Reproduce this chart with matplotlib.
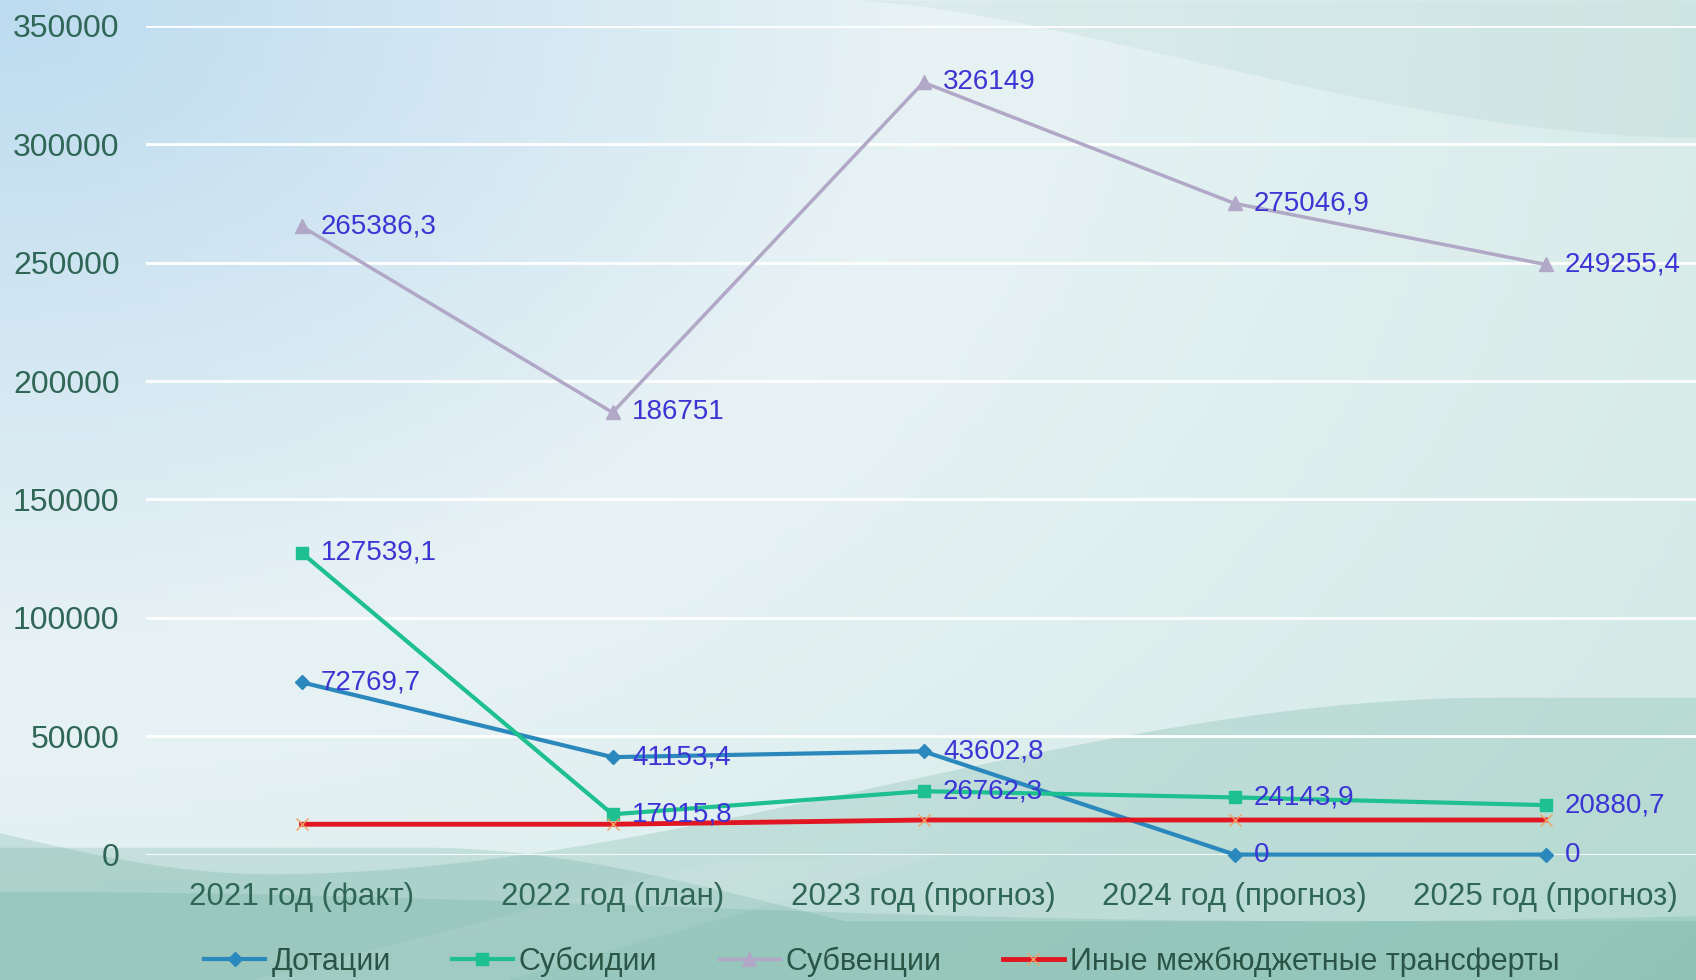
import numpy as np
import matplotlib.pyplot as plt
from matplotlib.patches import Polygon

# data
categories = ['2021 год (факт)', '2022 год (план)', '2023 год (прогноз)',
              '2024 год (прогноз)', '2025 год (прогноз)']
dotacii = [72769.7, 41153.4, 43602.8, 0, 0]
subsidii = [127539.1, 17015.8, 26762.3, 24143.9, 20880.7]
subvencii = [265386.3, 186751, 326149, 275046.9, 249255.4]
inye = [12800, 12800, 14600, 14600, 14600]
series_names = ['Дотации', 'Субсидии', 'Субвенции', 'Иные межбюджетные трансферты']
yticks = [0, 50000, 100000, 150000, 200000, 250000, 300000, 350000]

fig = plt.figure(figsize=(16.96, 9.8), dpi=100)

# background: soft blue-to-teal gradient with waves
bg = fig.add_axes([0, 0, 1, 1], zorder=-10)
h, w = 98, 170
yy, xx = np.mgrid[0:1:h * 1j, 0:1:w * 1j]
c_tl = np.array([0.74, 0.86, 0.94])
c_mid = np.array([0.91, 0.95, 0.96])
c_r = np.array([0.81, 0.91, 0.89])
d = np.sqrt(xx ** 2 + (yy * 0.8) ** 2)
img = np.zeros((h, w, 3))
for k in range(3):
    img[..., k] = np.interp(d, [0, 0.55, 1.3], [c_tl[k], c_mid[k], c_r[k]])
bg.imshow(img, extent=[0, 1, 0, 1], aspect='auto', origin='upper')
bg.set_xlim(0, 1)
bg.set_ylim(0, 1)
bg.axis('off')

teal = '#4f9f8a'


def smooth(u):
    u = np.clip(u, 0, 1)
    return u * u * (3 - 2 * u)


xs = np.linspace(0, 1, 300)
# top-right diagonal band
bg.fill_between(xs, 1 - 0.14 * smooth((xs - 0.5) / 0.5) ** 0.8, 1,
                where=xs > 0.5, color=teal, alpha=0.08, lw=0)
# main wave: dips at the left, rises to the right
wave = np.where(xs < 0.16, 0.15 - 0.042 * np.sin(0.5 * np.pi * xs / 0.16),
                0.108 + 0.18 * smooth((xs - 0.16) / 0.72))
bg.fill_between(xs, 0, wave, color=teal, alpha=0.2, lw=0)
# darker band at the bottom left, fading out to the right
band = 0.135 - 0.13 * smooth((xs - 0.25) / 0.45)
bg.fill_between(xs, 0, np.maximum(band, 0.06), color=teal, alpha=0.2, lw=0)
# legend strip
bg.fill_between(xs, 0, 0.075 + 0.015 * np.cos(xs * 4), color=teal, alpha=0.18, lw=0)
bg.add_patch(Polygon([[0.15, 0], [0.42, 0.12], [0.56, 0.13], [0.3, 0]], closed=True,
                     color='white', alpha=0.08, lw=0))

ax = fig.add_axes([146 / 1696, 0.128, 1555 / 1696, 0.8455])
ax.patch.set_alpha(0)
x = np.arange(len(categories))

styles = [
    (dotacii, '#2a88bd', 'D', 7, 3.0, True),
    (subsidii, '#1ebf90', 's', 8, 3.0, True),
    (subvencii, '#b0a8c6', '^', 10, 2.5, True),
    (inye, '#e01622', 'x', 9, 3.5, False),
]
for (vals, col, mk, ms, lw, lab), name in zip(styles, series_names):
    ax.plot(x, vals, color=col, marker=mk, markersize=ms, lw=lw, label=name,
            clip_on=False, zorder=3, markeredgewidth=1,
            markeredgecolor=col if mk != 'x' else '#f0a060')
    if lab:
        for xi, v in zip(x, vals):
            txt = f'{v:.1f}'.replace('.', ',')
            if txt.endswith(',0'):
                txt = txt[:-2]
            ax.annotate(txt, (xi, v), xytext=(14, 0), textcoords='offset points',
                        ha='left', va='center', fontsize=20, color='#3b35d6',
                        family='Liberation Sans', zorder=4)

ax.set_xlim(-0.5, 4.5)
ax.set_ylim(0, 350000)
ax.set_yticks(yticks)
ax.set_yticklabels([str(v) for v in yticks])
ax.set_xticks(x)
ax.set_xticklabels(categories)
ax.tick_params(axis='y', length=0, pad=19, labelsize=23, labelcolor='#2f6656')
ax.tick_params(axis='x', length=0, pad=20, labelsize=22.5, labelcolor='#2f6656')
for lbl in ax.get_xticklabels() + ax.get_yticklabels():
    lbl.set_family('Liberation Sans')
ax.grid(axis='y', color='white', lw=2, zorder=1)
for s in ax.spines.values():
    s.set_visible(False)

leg = fig.legend(loc='center', bbox_to_anchor=(0.52, 0.019), ncol=4, frameon=False,
                 prop={'family': 'Liberation Sans', 'size': 22}, handlelength=2.0,
                 columnspacing=2.0, handletextpad=0.2)
for txt in leg.get_texts():
    txt.set_color('#2a5546')

fig.savefig('out.png', dpi=100)
